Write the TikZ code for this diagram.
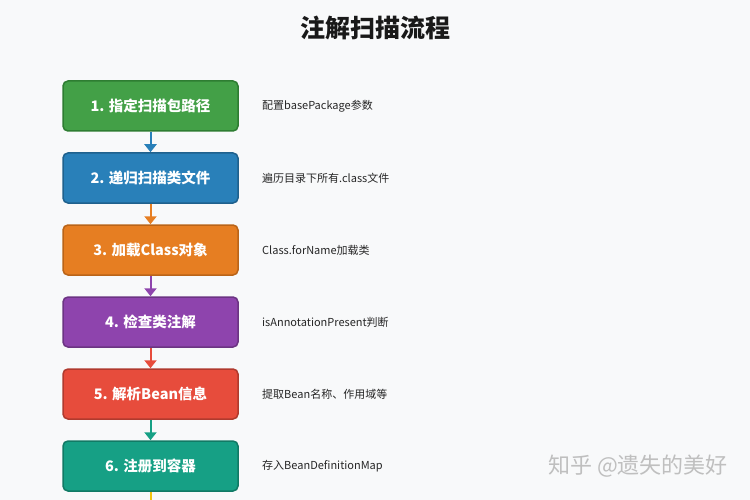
\documentclass[tikz,border=0pt]{standalone}
\usepackage{fontspec}
\setmainfont{Noto Sans CJK SC}
\usetikzlibrary{arrows.meta}

\definecolor{bg}{HTML}{F8F9FA}
\definecolor{green1}{HTML}{43A047}
\definecolor{green2}{HTML}{2E7D32}
\definecolor{blue1}{HTML}{2980B9}
\definecolor{blue2}{HTML}{1F618D}
\definecolor{orange1}{HTML}{E67E22}
\definecolor{orange2}{HTML}{BA6418}
\definecolor{purple1}{HTML}{8E44AD}
\definecolor{purple2}{HTML}{6C3483}
\definecolor{red1}{HTML}{E74C3C}
\definecolor{red2}{HTML}{B03A2E}
\definecolor{teal1}{HTML}{16A085}
\definecolor{teal2}{HTML}{117A65}
\definecolor{yellow1}{HTML}{F1C40F}

\tikzset{
	stage/.style={rectangle, rounded corners=5pt, line width=1.5pt,
		minimum width=175pt, minimum height=50pt, inner sep=0pt,
		text=white, font=\fontsize{14.5}{16}\selectfont\bfseries},
	note/.style={anchor=west, inner sep=0pt, text=black!85,
		font=\fontsize{11}{13}\selectfont},
	flow/.style={line width=2pt, -{Triangle[width=12pt,length=8pt]}, shorten >=0pt}
}

\begin{document}
\begin{tikzpicture}[x=1pt,y=-1pt]
	\fill[bg] (0,0) rectangle (750,500);
	\useasboundingbox (0,0) rectangle (750,500);

	\node[font=\fontsize{25}{28}\selectfont\bfseries, text=black!90] (title) at (375,28) {注解扫描流程};

	\node[stage, fill=green1, draw=green2] (s1) at (150.5,106) {1. 指定扫描包路径};
	\node[stage, fill=blue1, draw=blue2] (s2) at (150.5,178) {2. 递归扫描类文件};
	\node[stage, fill=orange1, draw=orange2] (s3) at (150.5,250) {3. 加载Class对象};
	\node[stage, fill=purple1, draw=purple2] (s4) at (150.5,322) {4. 检查类注解};
	\node[stage, fill=red1, draw=red2] (s5) at (150.5,394) {5. 解析Bean信息};
	\node[stage, fill=teal1, draw=teal2] (s6) at (150.5,466) {6. 注册到容器};
	\coordinate (c7) at (150.5,505);

	\node[note] (d1) at (262,106) {配置basePackage参数};
	\node[note] (d2) at (262,178) {遍历目录下所有.class文件};
	\node[note] (d3) at (262,250) {Class.forName加载类};
	\node[note] (d4) at (262,322) {isAnnotationPresent判断};
	\node[note] (d5) at (262,394) {提取Bean名称、作用域等};
	\node[note] (d6) at (262,466) {存入BeanDefinitionMap};

	\path[flow, draw=blue1, fill=blue1] (s1) edge (s2);
	\path[flow, draw=orange1, fill=orange1] (s2) edge (s3);
	\path[flow, draw=purple1, fill=purple1] (s3) edge (s4);
	\path[flow, draw=red1, fill=red1] (s4) edge (s5);
	\path[flow, draw=teal1, fill=teal1] (s5) edge (s6);
	\draw[line width=2pt, yellow1] (s6) -- (c7);

	% watermark
	\node[text=black!25, font=\fontsize{22}{24}\selectfont] (mark) at (638,466) {知乎 @遗失的美好};
\end{tikzpicture}
\end{document}
